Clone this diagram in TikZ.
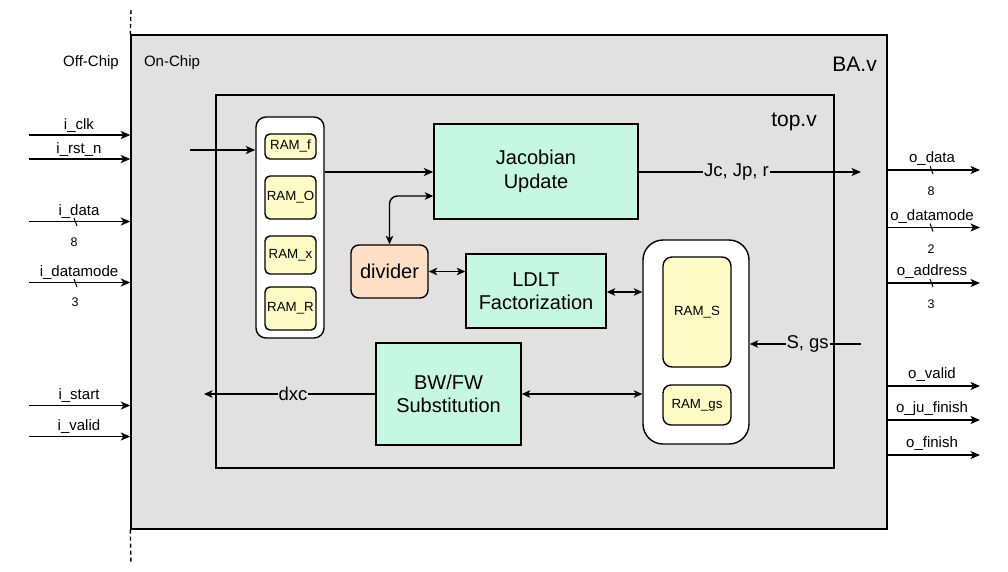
\documentclass[tikz,border=0pt]{standalone}
\usepackage{fontspec}
\setmainfont{Liberation Sans}
\usetikzlibrary{arrows.meta,calc}
\definecolor{bagray}{HTML}{E1E1E1}
\definecolor{mint}{HTML}{C6F7E2}
\definecolor{ramyellow}{HTML}{FFFBC6}
\definecolor{peach}{HTML}{FFDFC6}
\tikzset{
  lw/.style={line width=1.4pt},
  arr/.style={lw, -{Stealth[length=9.5pt,width=8pt,inset=2.5pt]}},
  darr/.style={lw, {Stealth[length=8.5pt,width=7.5pt,inset=2.2pt]}-{Stealth[length=8.5pt,width=7.5pt,inset=2.2pt]}},
  rarr/.style={lw, -{Stealth[length=8.5pt,width=7.5pt,inset=2.2pt]}},
  frame/.style={draw, lw, inner sep=0pt},
  block/.style={draw, lw, fill=mint, inner sep=0pt, align=center, font=\fontsize{20}{23.5}\selectfont},
  ramc/.style={draw, lw, fill=white, inner sep=0pt},
  ram/.style={draw, lw, fill=ramyellow, inner sep=0pt, rounded corners=5pt, font=\fontsize{13.3}{15}\selectfont},
  sig/.style={font=\fontsize{15}{17}\selectfont, inner sep=0pt, anchor=base},
  num/.style={font=\fontsize{12.5}{14}\selectfont, inner sep=0pt},
  wlbl/.style={font=\fontsize{18.5}{21}\selectfont, fill=bagray, inner sep=1pt},
  tick/.style={line width=1pt},
  chipline/.style={lw, dash pattern=on 4pt off 3pt},
}
\begin{document}
\begin{tikzpicture}[x=1pt,y=-1pt]
\useasboundingbox (0,0) rectangle (1008,571);

% outer and top frames
\node[frame, fill=bagray, minimum width=756pt, minimum height=494pt] (BA) at (509,282) {};
\node[frame, minimum width=618pt, minimum height=373pt] (top) at (525,281.5) {};

% chip boundary
\coordinate (dtop) at (131,10);
\coordinate (dbot) at (131,564);
\draw[chipline] (dtop) -- (BA.north west);
\draw[chipline] (BA.south west) -- (dbot);

\node[sig] (offchip) at (91,66) {Off-Chip};
\node[sig] (onchip) at (172,66) {On-Chip};
\node[anchor=base east, inner sep=0pt, font=\fontsize{21}{24}\selectfont] (bav) at (877,71) {BA.v};
\node[anchor=base east, inner sep=0pt, font=\fontsize{21}{24}\selectfont] (topv) at (817,126) {top.v};

% RAM column left
\node[ramc, rounded corners=10pt, minimum width=68pt, minimum height=221pt] (RAMc) at (290,227.5) {};
\node[ram, minimum width=51pt, minimum height=25pt] (RAMf) at (290.5,146.5) {RAM\_f};
\node[ram, minimum width=51pt, minimum height=43pt] (RAMO) at (290.5,197.5) {RAM\_O};
\node[ram, minimum width=51pt, minimum height=38pt] (RAMx) at (290.5,255) {RAM\_x};
\node[ram, minimum width=51pt, minimum height=43pt] (RAMR) at (290.5,308.5) {RAM\_R};

% blocks
\node[block, minimum width=204pt, minimum height=95pt] (Jac) at (536,171.5) {Jacobian\\Update};
\node[block, fill=peach, rounded corners=8pt, minimum width=77pt, minimum height=53pt] (div) at (389.5,271.5) {divider};
\node[block, minimum width=140pt, minimum height=74pt] (LDLT) at (536,291) {LDLT\\Factorization};
\node[block, minimum width=145pt, minimum height=102pt] (BW) at (448.5,394) {BW/FW\\Substitution};

% RAM column right
\node[ramc, rounded corners=20pt, minimum width=106pt, minimum height=204pt] (RAMSc) at (696,342) {};
\node[ram, rounded corners=9pt, minimum width=68pt, minimum height=110pt] (RAMS) at (697,312) {RAM\_S};
\node[ram, rounded corners=8pt, minimum width=68pt, minimum height=40pt] (RAMgs) at (697,405) {RAM\_gs};

% internal connectors
\coordinate (inStart) at (190,150);
\draw[arr] (inStart) -- (RAMc.west |- inStart);
\draw[arr] (RAMc.east |- 0,172) -- (Jac.west |- 0,172);
\draw[darr, rounded corners=8pt] (div.north) |- (Jac.west |- 0,196);
\draw[darr] (div.east) -- (LDLT.west |- div.east);
\draw[darr] (LDLT.east |- 0,292) -- (RAMSc.west |- 0,292);
\draw[darr] (BW.east) -- (RAMSc.west |- BW.east);
\coordinate (dxcEnd) at (204,394);
\draw[rarr] (BW.west) -- node[wlbl, pos=0.48] (dxc) {dxc} (dxcEnd);
\coordinate (jcEnd) at (861,172);
\draw[arr] (Jac.east |- jcEnd) -- node[wlbl, pos=0.44] (jc) {Jc, Jp, r} (jcEnd);
\coordinate (sgsStart) at (861,344);
\draw[rarr] (sgsStart) -- node[wlbl, pos=0.48] (sgs) {S, gs} (RAMSc.east |- sgsStart);

% inputs
\foreach \nm/\y/\lbl in {clk/135/i\_clk, rst/159/i\_rst\_n, data/221.5/i\_data, mode/282.5/i\_datamode, start/405.5/i\_start, valid/436.5/i\_valid}{
  \coordinate (in\nm) at (29,\y);
  \draw[arr] (in\nm) -- (BA.west |- in\nm);
  \node[sig] (lbl\nm) at (79,\y-6) {\lbl};
}
\draw[tick] (74,218) -- (77,226);
\draw[tick] (74,279) -- (77,287);
\node[num] (ndata) at (74,242) {8};
\node[num] (nmode) at (75,302) {3};

% outputs
\foreach \nm/\y/\lbl in {odata/170/o\_data, omode/227.5/o\_datamode, oaddr/283/o\_address, ovalid/386/o\_valid, oju/420/o\_ju\_finish, ofin/455/o\_finish}{
  \coordinate (\nm) at (980,\y);
  \draw[arr] (BA.east |- \nm) -- (\nm);
  \node[sig] (lbl\nm) at (932,\y-7.5) {\lbl};
}
\draw[tick] (930,166) -- (933,174);
\draw[tick] (930,223.5) -- (933,231.5);
\draw[tick] (930,279) -- (933,287);
\node[num] (nodata) at (931,191) {8};
\node[num] (nomode) at (931,249) {2};
\node[num] (noaddr) at (931,304) {3};
\end{tikzpicture}
\end{document}
